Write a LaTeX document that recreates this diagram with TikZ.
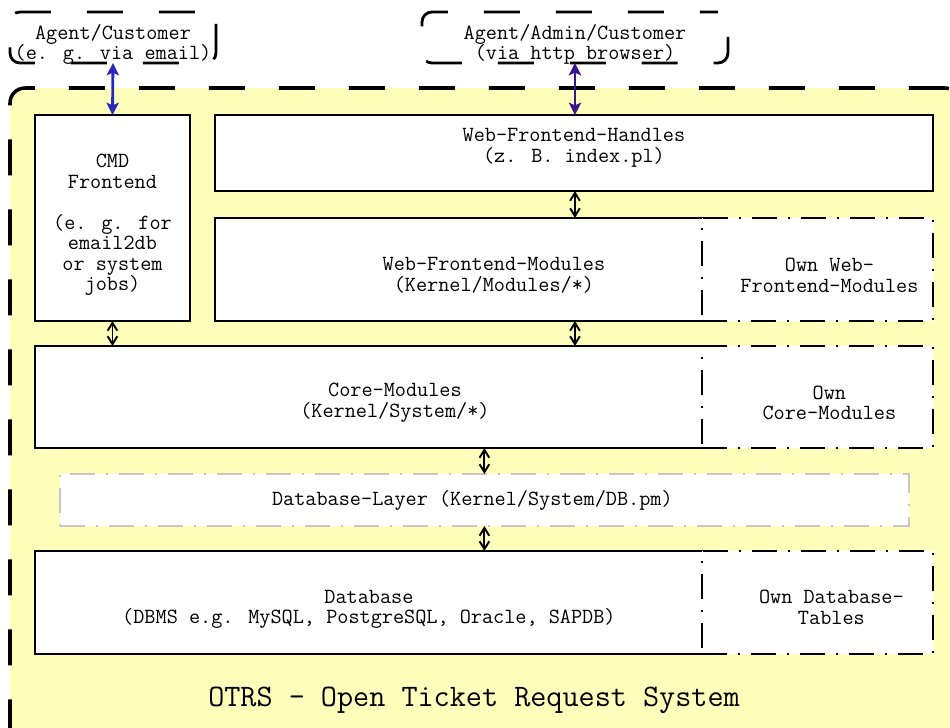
\documentclass[tikz,border=0pt]{standalone}
\usepackage{xcolor}
\usepackage{tikz}
\usetikzlibrary{positioning, arrows.meta}

\definecolor{otrsyellow}{HTML}{FFFFBB}
\definecolor{otrsblue}{HTML}{2828C0}
\definecolor{otrspurple}{HTML}{3C148C}

\begin{document}
\begin{tikzpicture}[
    x = 0.02cm, y = -0.02cm,
    every node/.style = {
        font=\ttfamily\fontsize{12.3}{11.7}\selectfont,
        align=center, inner sep=0pt, outer sep=0pt
    },
    box/.style = {draw, fill=white, line width=1.1pt, anchor=north west},
    ownbox/.style = {box, dash pattern=on 0.5cm off 0.22cm on 0.04cm off 0.22cm},
    actor/.style = {box, rounded corners=0.2cm, line width=1.6pt,
        dash pattern=on 0.72cm off 0.72cm},
    link/.style = {{Straight Barb[length=4.5pt, width=5.5pt]}-{Straight Barb[length=4.5pt, width=5.5pt]},
        line width=1.1pt},
    userlink/.style = {{Stealth[length=7pt, width=7pt, inset=1.5pt]}-{Stealth[length=7pt, width=7pt, inset=1.5pt]},
        line width=1.6pt}
  ]
    \clip (0,0) rectangle (950,727);

    \node[actor, dash phase=1.22cm, minimum width=4.12cm, minimum height=1.02cm,
        label={[yshift=-0.14cm]center:Agent/Customer\\(e. g. via email)}] (cust) at (10,12) {};  % 邮件用户
    \node[actor, dash phase=0.36cm, minimum width=6.12cm, minimum height=1.02cm,
        label={[yshift=-0.14cm]center:Agent/Admin/Customer\\(via http browser)}] (admin) at (422,12) {};  % 浏览器用户

    \node[box, fill=otrsyellow, rounded corners=0.3cm, line width=2pt,
        dash pattern=on 0.72cm off 0.68cm,
        minimum width=19cm, minimum height=14.2cm] (otrs) at (10,88) {};  % 系统外框

    \node[box, minimum width=3.1cm, minimum height=4.12cm,
        label={[yshift=-0.14cm]center:CMD\\Frontend\\[11.7pt](e. g. for\\email2db\\or system\\jobs)}] (cmd) at (35,115) {};
    \node[box, minimum width=14.36cm, minimum height=1.52cm,
        label={[yshift=0.1cm]center:Web-Frontend-Handles\\(z. B. index.pl)}] (handles) at (215,115) {};

    \node[box, minimum width=9.76cm, minimum height=2.06cm,
        label={[xshift=0.7cm, yshift=-0.12cm]center:Web-Frontend-Modules\\(Kernel/Modules/*)}] (webmod) at (215,218) {};
    \node[ownbox, right=-0.55pt of webmod, minimum width=4.62cm, minimum height=2.06cm,
        label={[xshift=0.24cm, yshift=-0.12cm]center:Own Web-\\Frontend-Modules}] (ownweb) {};

    \node[box, minimum width=13.36cm, minimum height=2.04cm,
        label={[xshift=0.52cm, yshift=-0.12cm]center:Core-Modules\\(Kernel/System/*)}] (core) at (35,346) {};
    \node[ownbox, right=-0.55pt of core, minimum width=4.62cm, minimum height=2.04cm,
        label={[xshift=0.24cm, yshift=-0.12cm]center:Own\\Core-Modules}] (owncore) {};

    \node[box, draw=black!22, dash pattern=on 0.5cm off 0.22cm on 0.04cm off 0.22cm,
        minimum width=16.98cm, minimum height=1.04cm,
        label={[xshift=-0.24cm]center:Database-Layer (Kernel/System/DB.pm)}] (dblayer) at (60,474) {};

    \node[box, minimum width=13.36cm, minimum height=2.06cm,
        label={[yshift=-0.14cm]center:Database\\(DBMS e.g. MySQL, PostgreSQL, Oracle, SAPDB)}] (database) at (35,551) {};
    \node[ownbox, right=-0.55pt of database, minimum width=4.62cm, minimum height=2.06cm,
        label={[xshift=0.28cm, yshift=-0.1cm]center:Own Database-\\Tables}] (owndb) {};

    \node[font=\ttfamily\fontsize{17.8}{20}\selectfont] (title) at (474,700)
        {OTRS - Open Ticket Request System};  % 标题

    \draw[userlink, otrsblue] (cust.south) -- (cmd.north);
    \draw[userlink, otrspurple] (admin.south) -- (admin.south |- handles.north);
    \draw[link] (admin.south |- handles.south) -- (admin.south |- webmod.north);
    \draw[link] (admin.south |- webmod.south) -- (admin.south |- core.north);
    \draw[link] (cmd.south) -- (cmd.south |- core.north);
    \draw[link] (dblayer.north |- core.south) -- (dblayer.north);
    \draw[link] (dblayer.south) -- (dblayer.south |- database.north);
\end{tikzpicture}
\end{document}
